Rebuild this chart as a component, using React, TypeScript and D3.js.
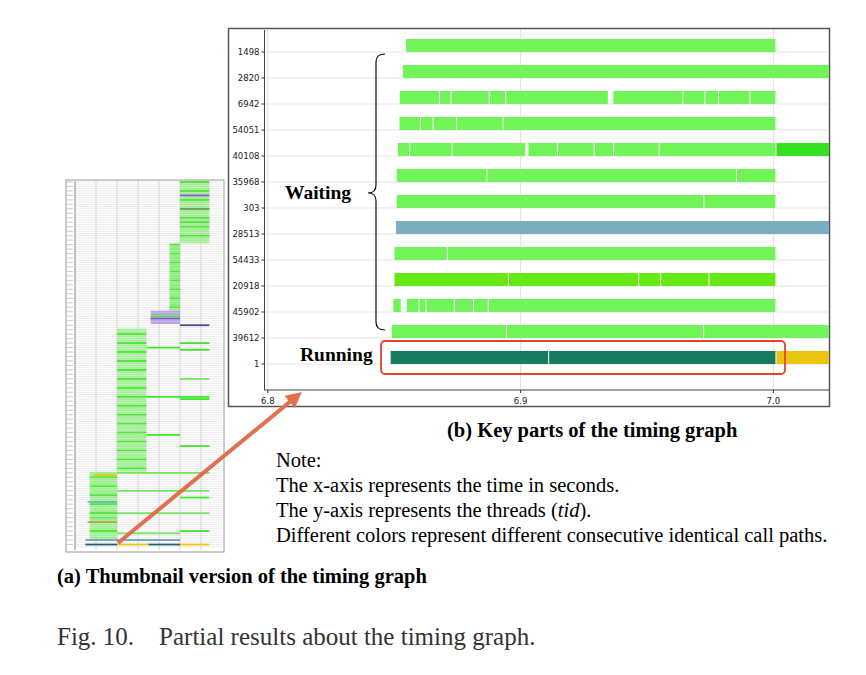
import React from "react";
import * as d3 from "d3";

const tids = ["1498","2820","6942","54051","40108","35968","303","28513","54433","20918","45902","39612","1"];
const LG = "#70f458", DG = "#66e812", BLUE = "#79adbf", TEAL = "#177a63", YEL = "#e9c50f", G2 = "#35e01e";
const END = 7.03;
const rowSegs: [number, number, string][][] = [
  [[6.8547, 7.0012, LG]],
  [[6.8534, END, LG]],
  [[6.8522,6.8681,LG],[6.8681,6.8727,LG],[6.8727,6.8878,LG],[6.8878,6.8943,LG],[6.8943,6.9349,LG],[6.9367,6.9644,LG],[6.9644,6.9731,LG],[6.9731,6.9785,LG],[6.9785,6.9909,LG],[6.9909,7.0012,LG]],
  [[6.8521,6.8606,LG],[6.8606,6.8656,LG],[6.8656,6.8749,LG],[6.8749,6.8933,LG],[6.8933,7.0012,LG]],
  [[6.8515,6.8563,LG],[6.8563,6.8731,LG],[6.8731,6.9023,LG],[6.9031,6.9148,LG],[6.9148,6.9293,LG],[6.9293,6.937,LG],[6.937,6.955,LG],[6.955,7.0012,LG],[7.0012,END,G2]],
  [[6.851,6.8869,LG],[6.8869,6.9856,LG],[6.9856,7.0012,LG]],
  [[6.851,6.9727,LG],[6.9727,7.0012,LG]],
  [[6.8507,END,BLUE]],
  [[6.8501,6.8712,LG],[6.8712,7.0012,LG]],
  [[6.8501,6.8954,DG],[6.8954,6.9469,DG],[6.9469,6.9556,DG],[6.9556,6.9747,DG],[6.9747,7.0012,DG]],
  [[6.8497,6.853,LG],[6.855,6.86,LG],[6.86,6.8628,LG],[6.8628,6.874,LG],[6.874,6.8816,LG],[6.8816,6.8874,LG],[6.8874,7.0012,LG]],
  [[6.8491,6.8946,LG],[6.8946,6.9726,LG],[6.9726,END,LG]],
  [[6.8486,6.9113,TEAL],[6.9113,7.0012,TEAL],[7.0012,END,YEL]],
];
const xTicks = [6.8, 6.9, 7.0];

// thumbnail: x in arbitrary time units 0..7, rows 0..164 (top=0)
const thumbBlocks: [number, number, number, number, string][] = [
  [5.0, 6.4, 0, 28, "#a6ec98"],
  [4.5, 5.0, 28, 58, "#8eec80"],
  [3.6, 5.0, 58, 64, "#b9a3e8"],
  [2.0, 3.4, 66, 130, "#a6ee9a"],
  [0.7, 2.0, 130, 160, "#9cee8e"],
];
const thumbLines: [number, number, number, string][] = [
  [5.0,6.4,6,"#7a5cd0"],[5.0,6.4,12,"#6aa060"],[5.0,6.4,18,"#4fdc3a"],[3.6,5.0,61,"#7a5cd0"],[5.0,6.4,64,"#4a4a90"],
  [5.0,6.4,72,"#3ee62a"],[3.4,5.0,74,"#3ee62a"],[5.0,6.4,75,"#3ee62a"],[5.0,6.4,88,"#6ee85a"],[3.4,6.4,96,"#3ee62a"],
  [5.0,6.4,97,"#3ee62a"],[3.4,5.0,113,"#3ee62a"],[5.0,6.4,118,"#3ee62a"],[2.0,6.4,130,"#6ee85a"],[0.9,2.0,131,"#e9c50f"],
  [2.0,6.4,138,"#6ee85a"],[5.0,6.4,141,"#3ee62a"],[0.7,2.0,150,"#6ee85a"],[0.6,2.0,143,"#62b8d0"],[2.0,6.4,148,"#6ee85a"],
  [0.5,5.0,160,"#6aa0c0"],[0.5,2.0,162,"#1e5f6a"],[2.0,3.5,162,"#e9c50f"],[3.5,5.0,162,"#1e5f6a"],[5.0,6.4,162,"#e9c50f"],
  [0.6,2.0,152,"#c0a060"],[5.0,6.4,156,"#3ee62a"],[2.0,5.0,157,"#6ee85a"],
];

export default function App() {
  const L = 264.5, R = 829, T = 30, B = 390;
  const x = d3.scaleLinear().domain([6.7987, 7.022]).range([L, R]);
  const yTick = (i: number) => 52 + i * 26;
  const tx = d3.scaleLinear().domain([0, 7]).range([75, 222]);
  const ty = d3.scaleLinear().domain([0, 164]).range([182, 549]);
  const thumbRows = d3.range(0, 164);
  const serif = "'Liberation Serif', 'Times New Roman', serif";
  return (
    <svg width={866} height={675} style={{ position: "absolute", left: 0, top: 0, background: "#fff" }} fontFamily={serif}>
      <defs>
        <clipPath id="pc"><rect x={L} y={T} width={R - L} height={B - T} /></clipPath>
        <marker id="ah" viewBox="0 0 10 10" refX="6" refY="5" markerWidth="4" markerHeight="4" orient="auto">
          <path d="M0,0L10,5L0,10z" fill="#e07050" />
        </marker>
      </defs>
      {/* thumbnail */}
      <g>
        <rect x={66} y={180} width={158} height={372} fill="#fff" stroke="#999" strokeWidth={1} />
        {thumbRows.map(r => (
          <line key={r} x1={75} x2={222} y1={ty(r)} y2={ty(r)} stroke="#e6e6e6" strokeWidth={0.8} />
        ))}
        {thumbRows.filter(r => r % 2 === 0).map(r => (
          <rect key={"l" + r} x={67} y={ty(r) - 0.6} width={6} height={1.1} fill="#cfcfcf" />
        ))}
        {[1, 2, 3, 4, 5, 6].map(v => (
          <line key={v} x1={tx(v)} x2={tx(v)} y1={181} y2={550} stroke="#ccc" strokeWidth={0.8} />
        ))}
        <line x1={75} x2={75} y1={181} y2={550} stroke="#888" />
        {thumbBlocks.map(([a, b, r0, r1, c], i) =>
          d3.range(r0, r1).map(r => (
            <rect key={i + "-" + r} x={tx(a)} y={ty(r) - 1.1} width={tx(b) - tx(a)} height={2.1}
              fill={r % 4 === 0 ? "#52e63c" : c} />
          ))
        )}
        {thumbLines.map(([a, b, r, c], i) => (
          <rect key={"t" + i} x={tx(a)} y={ty(r) - 0.9} width={tx(b) - tx(a)} height={1.8} fill={c} />
        ))}
      </g>
      {/* main chart */}
      <rect x={228.5} y={28.5} width={601} height={378} fill="#fff" stroke="#555" strokeWidth={1.5} />
      {xTicks.map(v => (
        <g key={v}>
          <line x1={x(v)} x2={x(v)} y1={T} y2={B} stroke="#e0e0e0" strokeWidth={1} />
          <line x1={x(v)} x2={x(v)} y1={B} y2={B + 3} stroke="#333" />
          <text x={x(v)} y={B + 14} fontSize={8.5} textAnchor="middle" fontFamily="'DejaVu Sans', sans-serif" fill="#222">{v.toFixed(1)}</text>
        </g>
      ))}
      {tids.map((t, i) => (
        <g key={t}>
          <line x1={L} x2={R} y1={yTick(i)} y2={yTick(i)} stroke="#e3e3e3" strokeWidth={1} />
          <line x1={L - 3} x2={L} y1={yTick(i)} y2={yTick(i)} stroke="#333" />
          <text x={L - 5} y={yTick(i) + 3} fontSize={8.5} textAnchor="end" fontFamily="'DejaVu Sans', sans-serif" fill="#222">{t}</text>
        </g>
      ))}
      <g clipPath="url(#pc)">
        {rowSegs.map((segs, i) => segs.map(([a, b, c], j) => (
          <rect key={i + "-" + j} x={x(a)} y={yTick(i) - 13} width={Math.max(0, x(b) - x(a) - 1)} height={13} fill={c} />
        )))}
      </g>
      <line x1={L} x2={L} y1={T} y2={B} stroke="#444" />
      <line x1={L} x2={R} y1={B} y2={B} stroke="#444" />
      {/* brace */}
      <path d="M385,54 Q376,54 376,62 L376,185 Q376,193 368,193 Q376,193 376,201 L376,322 Q376,330 385,330" fill="none" stroke="#111" strokeWidth={1.2} />
      <text x={285} y={199} fontSize={19.5} fontWeight="bold">Waiting</text>
      <text x={300} y={361} fontSize={19.5} fontWeight="bold">Running</text>
      <rect x={381} y={341} width={404} height={33} rx={4} fill="none" stroke="#e8412c" strokeWidth={1.8} />
      <line x1={118} y1={543} x2={297} y2={396} stroke="#e07050" strokeWidth={4} markerEnd="url(#ah)" />
      <text x={447} y={437} fontSize={20.5} fontWeight="bold">(b) Key parts of the timing graph</text>
      <text x={276} y={467} fontSize={20.5}>Note:</text>
      <text x={276} y={492} fontSize={20.5}>The x-axis represents the time in seconds.</text>
      <text x={276} y={517} fontSize={20.5}>The y-axis represents the threads (<tspan fontStyle="italic">tid</tspan>).</text>
      <text x={276} y={542} fontSize={20.5}>Different colors represent different consecutive identical call paths.</text>
      <text x={57} y={583} fontSize={20.5} fontWeight="bold">(a) Thumbnail version of the timing graph</text>
      <text x={57} y={645} fontSize={25} fill="#333" xmlSpace="preserve">Fig. 10.    Partial results about the timing graph.</text>
    </svg>
  );
}
